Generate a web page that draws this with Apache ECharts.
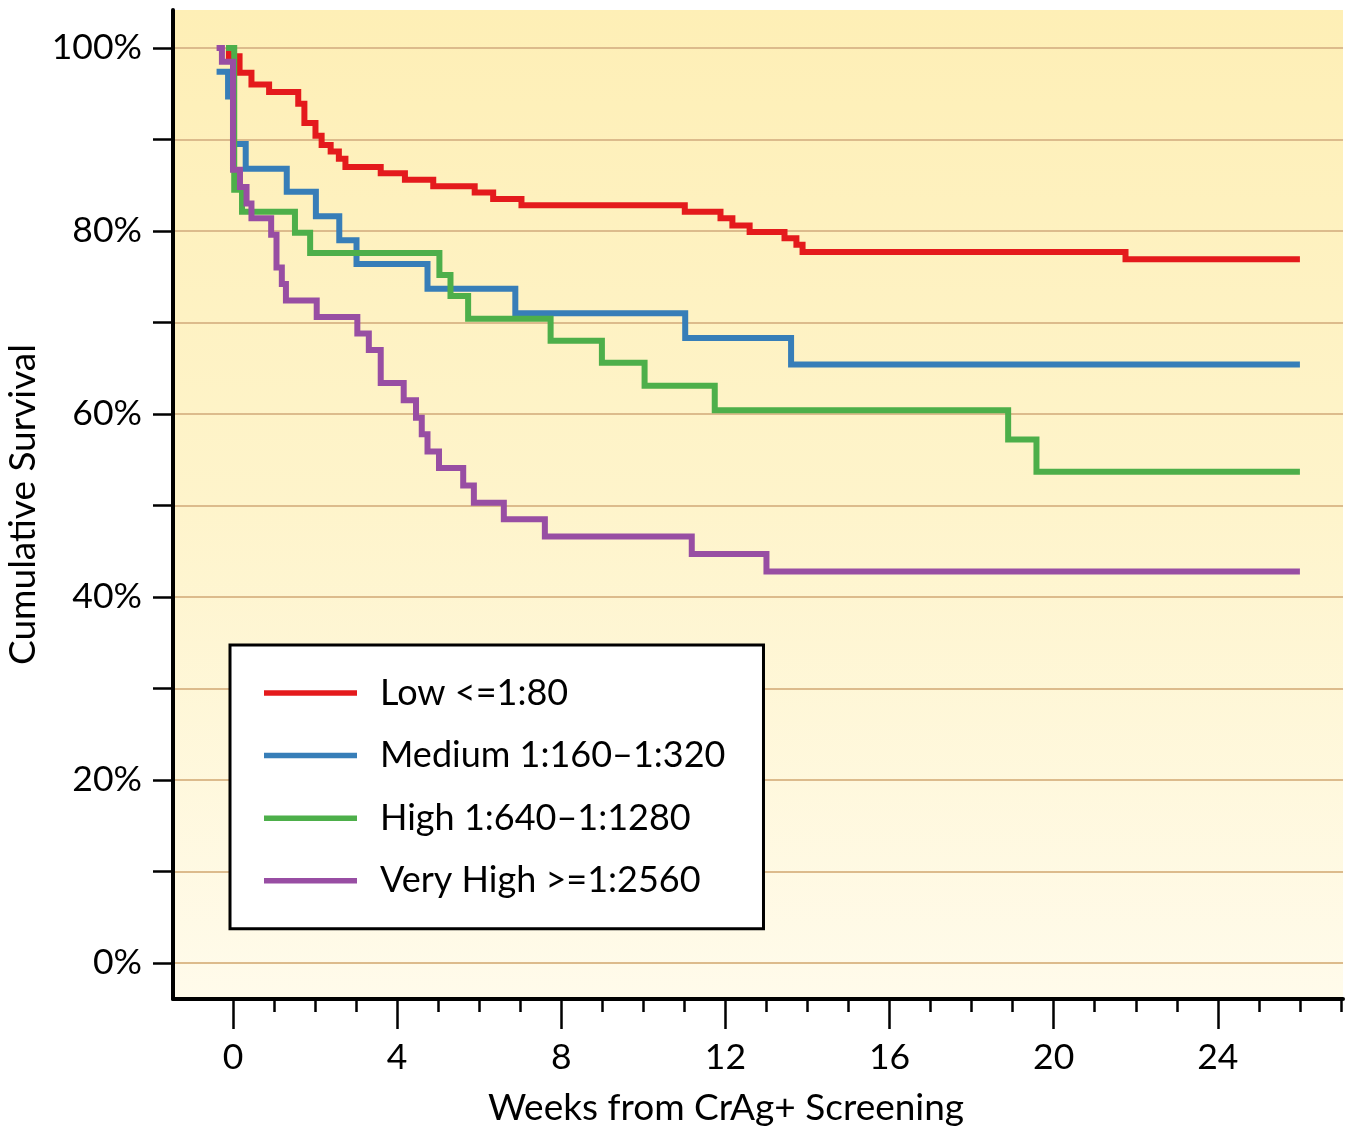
<!DOCTYPE html>
<html>
<head>
<meta charset="utf-8">
<title>Cumulative Survival</title>
<script src="https://cdn.jsdelivr.net/npm/echarts@6/dist/echarts.min.js"></script>
<style>
  html, body { margin: 0; padding: 0; background: #fff; }
  #chart { width: 1354px; height: 1127px; }
</style>
</head>
<body>
<div id="chart"></div>
<script>
// groups (legend order)
const groupNames = ['Low <=1:80', 'Medium 1:160\u20131:320', 'High 1:640\u20131:1280', 'Very High >=1:2560'];
const groupColors = ['#e41a1c', '#377eb8', '#4daf4a', '#984ea3'];

// step times (weeks) and survival (%) right after each step
const lowWeeks = [-0.17, -0.1, 0.16, 0.45, 0.88, 1.59, 1.74, 2.01, 2.16, 2.38, 2.58, 2.74, 3.6, 4.19, 4.88, 5.89, 6.34, 7.03, 11.01, 11.88, 12.17, 12.59, 13.44, 13.73, 13.88, 21.75, 26.0];
const lowSurv = [100, 99.1, 97.3, 96.0, 95.2, 93.9, 91.8, 90.4, 89.4, 88.7, 87.9, 87.0, 86.3, 85.6, 84.9, 84.2, 83.5, 82.8, 82.1, 81.4, 80.6, 79.9, 79.2, 78.5, 77.7, 76.9, 76.9];

const mediumWeeks = [-0.4, -0.12, 0.0, 0.31, 1.31, 2.02, 2.59, 3.01, 4.74, 6.88, 11.02, 13.6, 26.0];
const mediumSurv = [97.4, 94.7, 89.5, 86.8, 84.3, 81.6, 79.0, 76.4, 73.7, 71.0, 68.3, 65.4, 65.4];

const highWeeks = [-0.17, 0.03, 0.22, 1.51, 1.88, 5.03, 5.3, 5.73, 7.74, 8.99, 10.03, 11.74, 18.89, 19.58, 26.0];
const highSurv = [100, 84.5, 82.1, 79.8, 77.6, 75.2, 72.9, 70.4, 68.0, 65.6, 63.1, 60.4, 57.2, 53.7, 53.7];

const veryHighWeeks = [-0.4, -0.27, 0.0, 0.17, 0.33, 0.45, 0.93, 1.06, 1.19, 1.29, 2.04, 3.03, 3.31, 3.6, 4.16, 4.46, 4.6, 4.74, 5.02, 5.61, 5.87, 6.6, 7.6, 11.18, 13.0, 26.0];
const veryHighSurv = [100, 98.5, 86.7, 84.8, 83.0, 81.4, 79.6, 76.0, 74.2, 72.4, 70.6, 68.8, 67.0, 63.4, 61.5, 59.6, 57.8, 55.9, 54.1, 52.2, 50.3, 48.5, 46.6, 44.7, 42.8, 42.8];

// axis ticks
const xMajorTicks = [0, 4, 8, 12, 16, 20, 24];
const xMinorTicks = [0, 1, 2, 3, 4, 5, 6, 7, 8, 9, 10, 11, 12, 13, 14, 15, 16, 17, 18, 19, 20, 21, 22, 23, 24, 25, 26, 27];
const yTicks = [0, 10, 20, 30, 40, 50, 60, 70, 80, 90, 100];
const yLabels = [0, 20, 40, 60, 80, 100];

const xMin = -1.462;
const xMax = 27.05;
const yMin = -3.93;
const yMax = 104.15;

const fontFamily = 'Lato, "Open Sans", sans-serif';

function zipSteps(weeks, surv) {
   let out = [];
   for (let i = 0; i < weeks.length; i++) {
      out.push([weeks[i], surv[i]]);
   }
   return out;
}

function makeSeries(name, color, data) {
   return {
      name: name,
      type: 'line',
      step: 'end',
      data: data,
      color: color,
      showSymbol: false,
      symbol: 'none',
      lineStyle: {
         width: 6,
         color: color,
         cap: 'butt',
         join: 'miter'
      },
      xAxisIndex: 0,
      yAxisIndex: 0
   };
}

let chart = echarts.init(document.getElementById('chart'));

let option = {
   animation: false,
   backgroundColor: '#ffffff',
   textStyle: { fontFamily: fontFamily },
   grid: {
      left: 173,
      top: 10,
      right: 11,
      bottom: 128,
      outerBoundsMode: 'none',
      containLabel: false,
      show: true,
      borderWidth: 0,
      backgroundColor: new echarts.graphic.LinearGradient(0, 0, 0, 1, [
         { offset: 0, color: '#feefb6' },
         { offset: 0.5, color: '#fef4cb' },
         { offset: 1, color: '#fffbeb' }
      ])
   },
   legend: {
      orient: 'vertical',
      left: 230,
      top: 645,
      data: groupNames,
      icon: 'rect',
      itemWidth: 93,
      itemHeight: 5.5,
      itemGap: 22.6,
      padding: [28, 38, 28, 34],
      backgroundColor: '#ffffff',
      borderColor: '#000000',
      borderWidth: 3,
      selectedMode: false,
      textStyle: {
         fontFamily: fontFamily,
         fontSize: 36,
         color: '#000',
         lineHeight: 40,
         padding: [0, 0, 0, 18]
      }
   },
   xAxis: [
      {
         type: 'value',
         position: 'bottom',
         min: xMin,
         max: xMax,
         name: 'Weeks from CrAg+ Screening',
         nameLocation: 'middle',
         nameGap: 91,
         nameTextStyle: {
            fontFamily: fontFamily,
            fontSize: 37,
            color: '#000',
            padding: [0, 64, 0, 0]
         },
         axisLine: { show: true, onZero: false, lineStyle: { color: '#000', width: 4 } },
         axisTick: { show: true, inside: false, length: 30, customValues: xMajorTicks, lineStyle: { color: '#000', width: 2.5 } },
         axisLabel: { show: true, customValues: xMajorTicks, margin: 41, fontSize: 35.5, color: '#000', fontFamily: fontFamily },
         splitLine: { show: false }
      },
      {
         type: 'value',
         position: 'bottom',
         min: xMin,
         max: xMax,
         axisLine: { show: false, onZero: false },
         axisTick: { show: true, inside: false, length: 13, customValues: xMinorTicks, lineStyle: { color: '#000', width: 2.5 } },
         axisLabel: { show: false },
         splitLine: { show: false }
      }
   ],
   yAxis: {
      type: 'value',
      min: yMin,
      max: yMax,
      name: 'Cumulative Survival',
      nameLocation: 'middle',
      nameGap: 131,
      nameMoveOverlap: false,
      nameTextStyle: {
         fontFamily: fontFamily,
         fontSize: 37,
         color: '#000'
      },
      axisLine: { show: true, onZero: false, lineStyle: { color: '#000', width: 4 } },
      axisTick: { show: true, inside: false, length: 20, customValues: yTicks, lineStyle: { color: '#000', width: 2.5 } },
      axisLabel: {
         show: true,
         customValues: yLabels,
         margin: 31,
         fontSize: 35.5,
         color: '#000',
         fontFamily: fontFamily,
         formatter: function (v) { return v + '%'; }
      },
      splitLine: { show: true, lineStyle: { color: '#dcbb8c', width: 2 } }
   },
   series: [
      makeSeries(groupNames[0], groupColors[0], zipSteps(lowWeeks, lowSurv)),
      makeSeries(groupNames[1], groupColors[1], zipSteps(mediumWeeks, mediumSurv)),
      makeSeries(groupNames[2], groupColors[2], zipSteps(highWeeks, highSurv)),
      makeSeries(groupNames[3], groupColors[3], zipSteps(veryHighWeeks, veryHighSurv))
   ]
};

chart.setOption(option);
</script>
</body>
</html>
